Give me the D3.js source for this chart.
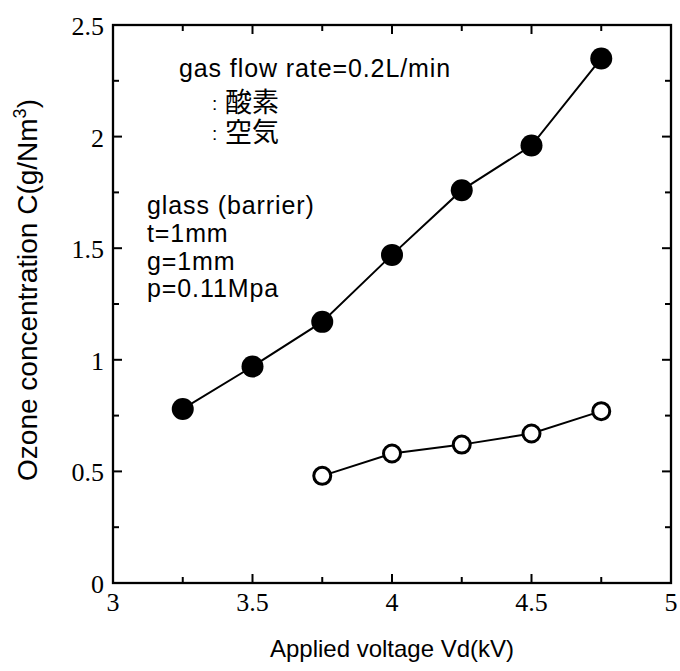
<!DOCTYPE html>
<html lang="ja">
<head>
<meta charset="UTF-8">
<title>Ozone concentration</title>
<style>
  body { margin: 0; padding: 0; background: #fff; }
  svg { display: block; }
  .tick-label { font-family: "Liberation Serif", "Times New Roman", serif; font-size: 26px; }
  .sans { font-family: "Liberation Sans", Arial, sans-serif; }
  .cjk { font-family: "Noto Sans CJK JP", sans-serif; }
</style>
</head>
<body>
<script src="https://d3js.org/d3.v7.min.js"></script>
<script>
// data
const oxygenV = [3.25, 3.5, 3.75, 4, 4.25, 4.5, 4.75];
const oxygenC = [0.78, 0.97, 1.17, 1.47, 1.76, 1.96, 2.35];
const airV = [3.75, 4, 4.25, 4.5, 4.75];
const airC = [0.48, 0.58, 0.62, 0.67, 0.77];
const xTicks = [3, 3.5, 4, 4.5, 5];
const yTicks = [0, 0.5, 1, 1.5, 2, 2.5];
const xTickLabels = ['3', '3.5', '4', '4.5', '5'];
const yTickLabels = ['0', '0.5', '1', '1.5', '2', '2.5'];
const legendNames = ['酸素', '空気'];

const width = 680, height = 671;
const plotL = 113, plotR = 671, plotT = 25, plotB = 583;

const svg = d3.select('body').append('svg')
  .attr('width', width).attr('height', height);

const x = d3.scaleLinear().domain([3, 5]).range([plotL, plotR]);
const y = d3.scaleLinear().domain([0, 2.5]).range([plotB, plotT]);

// frame
svg.append('rect')
  .attr('x', plotL).attr('y', plotT)
  .attr('width', plotR - plotL).attr('height', plotB - plotT)
  .attr('fill', 'none').attr('stroke', '#000').attr('stroke-width', 2.3);

// ticks, inside on all four sides
const minorX = d3.range(3, 5.001, 0.25);
const minorY = d3.range(0, 2.501, 0.25);
const isMajor = v => Math.abs(v * 2 - Math.round(v * 2)) < 1e-6;
const tk = svg.append('g').attr('stroke', '#000').attr('stroke-width', 2);
minorX.forEach(v => {
  const len = isMajor(v) ? 9 : 6;
  tk.append('line').attr('x1', x(v)).attr('x2', x(v)).attr('y1', plotB).attr('y2', plotB - len);
  tk.append('line').attr('x1', x(v)).attr('x2', x(v)).attr('y1', plotT).attr('y2', plotT + len);
});
minorY.forEach(v => {
  const len = isMajor(v) ? 9 : 6;
  tk.append('line').attr('y1', y(v)).attr('y2', y(v)).attr('x1', plotL).attr('x2', plotL + len);
  tk.append('line').attr('y1', y(v)).attr('y2', y(v)).attr('x1', plotR).attr('x2', plotR - len);
});

// tick labels
svg.append('g').selectAll('text').data(xTicks).join('text')
  .attr('class', 'tick-label')
  .attr('x', d => x(d)).attr('y', plotB + 28)
  .attr('text-anchor', 'middle')
  .text((d, i) => xTickLabels[i]);
svg.append('g').selectAll('text').data(yTicks).join('text')
  .attr('class', 'tick-label')
  .attr('x', plotL - 9).attr('y', d => y(d) + 10)
  .attr('text-anchor', 'end')
  .text((d, i) => yTickLabels[i]);

// axis titles
svg.append('text').attr('class', 'sans')
  .attr('x', 392).attr('y', 657)
  .attr('text-anchor', 'middle').attr('font-size', 24)
  .text('Applied voltage Vd(kV)');

const yt = svg.append('text').attr('class', 'sans')
  .attr('transform', 'translate(37,290) rotate(-90)')
  .attr('text-anchor', 'middle').attr('font-size', 28);
yt.append('tspan').text('Ozone concentration C(g/Nm');
yt.append('tspan').attr('font-size', 18).attr('dy', -11).text('3');
yt.append('tspan').attr('dy', 11).text(')');

// lines
const line = d3.line().x(d => x(d[0])).y(d => y(d[1]));
const oxy = oxygenV.map((v, i) => [v, oxygenC[i]]);
const air = airV.map((v, i) => [v, airC[i]]);

svg.append('path').datum(oxy).attr('d', line)
  .attr('fill', 'none').attr('stroke', '#000').attr('stroke-width', 2);
svg.append('path').datum(air).attr('d', line)
  .attr('fill', 'none').attr('stroke', '#000').attr('stroke-width', 2);

// markers
svg.append('g').selectAll('circle').data(oxy).join('circle')
  .attr('cx', d => x(d[0])).attr('cy', d => y(d[1])).attr('r', 11)
  .attr('fill', '#000');
svg.append('g').selectAll('circle').data(air).join('circle')
  .attr('cx', d => x(d[0])).attr('cy', d => y(d[1])).attr('r', 8.5)
  .attr('fill', '#fff').attr('stroke', '#000').attr('stroke-width', 3);

// notes
const note = svg.append('g').attr('class', 'sans').attr('font-size', 25)
  .attr('letter-spacing', 0.9);
note.append('text').attr('x', 179).attr('y', 77).text('gas flow rate=0.2L/min');

// legend names (symbols are not shown in the source, only the colons)
const colons = svg.append('text').attr('class', 'sans').attr('font-size', 19);
const names = svg.append('text').attr('class', 'cjk').attr('font-size', 27);
legendNames.forEach((name, i) => {
  colons.append('tspan').attr('x', 212).attr('y', 110 + i * 30).text(':');
  names.append('tspan').attr('x', 225).attr('y', 112 + i * 30).text(name);
});

const cond = ['glass (barrier)', 't=1mm', 'g=1mm', 'p=0.11Mpa'];
note.selectAll('.cond').data(cond).join('text')
  .attr('class', 'cond')
  .attr('x', 147).attr('y', (d, i) => 214 + i * 27.8)
  .text(d => d);
</script>
</body>
</html>
